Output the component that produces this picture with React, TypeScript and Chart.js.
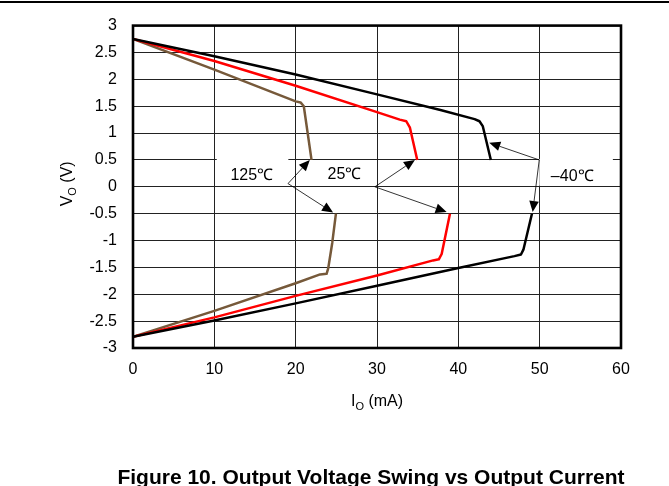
import React, { useEffect, useRef } from 'react';
import { Chart, registerables } from 'chart.js';

Chart.register(...registerables);

// ---- axis ticks ----
const xTickValues = [0, 10, 20, 30, 40, 50, 60];
const yTickValues = [-3, -2.5, -2, -1.5, -1, -0.5, 0, 0.5, 1, 1.5, 2, 2.5, 3];

// ---- series (I in mA, V in volts) ----
const i125Top = [0, 10, 20, 20.6, 21.0, 21.95];
const v125Top = [2.75, 2.18, 1.59, 1.57, 1.5, 0.5];
const i125Bot = [0, 10, 20, 23, 23.8, 24.0, 24.5, 24.95];
const v125Bot = [-2.79, -2.31, -1.795, -1.63, -1.62, -1.52, -1.04, -0.5];

const i25Top = [0, 10, 20, 30, 32.8, 33.6, 34.05, 34.95];
const v25Top = [2.75, 2.34, 1.88, 1.39, 1.25, 1.22, 1.1, 0.5];
const i25Bot = [0, 10, 20, 30, 36.9, 37.6, 37.95, 38.97];
const v25Bot = [-2.79, -2.43, -2.03, -1.65, -1.37, -1.35, -1.25, -0.5];

const iM40Top = [0, 10, 20, 30, 37.8, 42.0, 42.6, 43.0, 44.0];
const vM40Top = [2.75, 2.43, 2.09, 1.72, 1.43, 1.26, 1.22, 1.13, 0.5];
const iM40Bot = [0, 10, 20, 30, 40, 46.9, 47.7, 48.0, 49.05];
const vM40Bot = [-2.79, -2.49, -2.17, -1.84, -1.51, -1.29, -1.26, -1.17, -0.5];

// ---- annotations (data coordinates) ----
const labelText = ['125℃', '25℃', '–40℃'];
const labelX = [14.6, 26.0, 54.0];
const labelY = [0.2, 0.22, 0.19];
const arrowFromX = [19.06, 29.74, 49.95];
const arrowFromY = [0.06, 0.0, 0.5];
const arrowUpX = [21.74, 34.66, 43.8];
const arrowUpY = [0.5, 0.5, 0.82];
const arrowDownX = [24.6, 38.56, 49.14];
const arrowDownY = [-0.48, -0.47, -0.47];
const boxX0 = [10.3, null, 49.95];
const boxX1 = [19.1, null, 59.0];
const boxY0 = [0.03, null, 0.02];
const boxY1 = [0.5, null, 0.5];

const xTitleMain = 'I';
const xTitleSub = 'O';
const xTitleRest = ' (mA)';
const yTitleMain = 'V';
const yTitleSub = 'O';
const yTitleRest = ' (V)';
const caption = 'Figure 10. Output Voltage Swing vs Output Current';

const BLACK = '#000000';
const RED = '#ff0000';
const BROWN = '#76593a';
const FONT = '"Liberation Sans", Arial, sans-serif';

const pts = (xs: number[], ys: number[]) => xs.map((x, i) => ({ x, y: ys[i] }));

function drawArrow(ctx: CanvasRenderingContext2D, x0: number, y0: number, x1: number, y1: number) {
  const ang = Math.atan2(y1 - y0, x1 - x0);
  const len = 11;
  const half = 4.8;
  const bx = x1 - len * Math.cos(ang);
  const by = y1 - len * Math.sin(ang);
  ctx.beginPath();
  ctx.moveTo(x0, y0);
  ctx.lineTo(bx, by);
  ctx.lineWidth = 0.8;
  ctx.strokeStyle = '#000';
  ctx.stroke();
  ctx.beginPath();
  ctx.moveTo(x1, y1);
  ctx.lineTo(bx + half * Math.sin(ang), by - half * Math.cos(ang));
  ctx.lineTo(bx - half * Math.sin(ang), by + half * Math.cos(ang));
  ctx.closePath();
  ctx.fillStyle = '#000';
  ctx.fill();
}

const decor = {
  id: 'decor',
  beforeDatasetsDraw(chart: any) {
    const { ctx, scales } = chart;
    const xs = scales.x;
    const ys = scales.y;
    ctx.save();
    ctx.fillStyle = '#ffffff';
    for (let i = 0; i < boxX0.length; i++) {
      if (boxX0[i] === null) continue;
      const px0 = xs.getPixelForValue(boxX0[i] as number);
      const px1 = xs.getPixelForValue(boxX1[i] as number);
      const py0 = ys.getPixelForValue(boxY1[i] as number);
      const py1 = ys.getPixelForValue(boxY0[i] as number);
      ctx.fillRect(px0, py0 - 1, px1 - px0, py1 - py0 + 1);
    }
    ctx.restore();
  },
  afterDatasetsDraw(chart: any) {
    const { ctx, scales } = chart;
    const xs = scales.x;
    const ys = scales.y;
    ctx.save();
    for (let i = 0; i < labelText.length; i++) {
      const fx = xs.getPixelForValue(arrowFromX[i]);
      const fy = ys.getPixelForValue(arrowFromY[i]);
      drawArrow(ctx, fx, fy, xs.getPixelForValue(arrowUpX[i]), ys.getPixelForValue(arrowUpY[i]));
      drawArrow(ctx, fx, fy, xs.getPixelForValue(arrowDownX[i]), ys.getPixelForValue(arrowDownY[i]));
      ctx.font = `16px ${FONT}`;
      ctx.fillStyle = '#000';
      ctx.textAlign = 'center';
      ctx.textBaseline = 'middle';
      ctx.fillText(labelText[i], xs.getPixelForValue(labelX[i]), ys.getPixelForValue(labelY[i]));
    }
    ctx.restore();
  },
  afterDraw(chart: any) {
    const { ctx, chartArea, width } = chart;
    ctx.save();
    // plot frame
    ctx.strokeStyle = '#000';
    ctx.lineWidth = 2.6;
    ctx.strokeRect(chartArea.left, chartArea.top, chartArea.right - chartArea.left, chartArea.bottom - chartArea.top);
    // page rule at top
    ctx.fillStyle = '#000';
    ctx.fillRect(0, 1, width, 2);
    // x title
    const cx = (chartArea.left + chartArea.right) / 2;
    ctx.textBaseline = 'alphabetic';
    ctx.textAlign = 'left';
    const big = `16px ${FONT}`;
    const small = `11px ${FONT}`;
    ctx.font = big;
    const w1 = ctx.measureText(xTitleMain).width;
    const w3 = ctx.measureText(xTitleRest).width;
    ctx.font = small;
    const w2 = ctx.measureText(xTitleSub).width;
    let x = cx - (w1 + w2 + w3) / 2;
    const by = 405.5;
    ctx.font = big;
    ctx.fillText(xTitleMain, x, by);
    x += w1;
    ctx.font = small;
    ctx.fillText(xTitleSub, x, by + 4);
    x += w2;
    ctx.font = big;
    ctx.fillText(xTitleRest, x, by);
    // y title (rotated)
    const cy = (chartArea.top + chartArea.bottom) / 2 - 3;
    ctx.save();
    ctx.translate(71.5, cy);
    ctx.rotate(-Math.PI / 2);
    ctx.font = big;
    const v1 = ctx.measureText(yTitleMain).width;
    const v3 = ctx.measureText(yTitleRest).width;
    ctx.font = small;
    const v2 = ctx.measureText(yTitleSub).width;
    let t = -(v1 + v2 + v3) / 2;
    ctx.font = big;
    ctx.fillText(yTitleMain, t, 0);
    t += v1;
    ctx.font = small;
    ctx.fillText(yTitleSub, t, 4);
    t += v2;
    ctx.font = big;
    ctx.fillText(yTitleRest, t, 0);
    ctx.restore();
    // caption
    ctx.font = `bold 21px ${FONT}`;
    ctx.textAlign = 'center';
    ctx.fillText(caption, 371, 484);
    ctx.restore();
  },
};

export default function App() {
  const ref = useRef<HTMLCanvasElement>(null);
  useEffect(() => {
    document.body.style.margin = '0';
    const canvas = ref.current;
    if (!canvas) return;
    const line = (data: { x: number; y: number }[], color: string) => ({
      data,
      borderColor: color,
      backgroundColor: color,
      borderWidth: 2.5,
      pointRadius: 0,
      showLine: true,
      fill: false,
      tension: 0,
      borderJoinStyle: 'round' as const,
      borderCapStyle: 'butt' as const,
    });
    const chart = new Chart(canvas, {
      type: 'scatter',
      data: {
        datasets: [
          line(pts(iM40Top, vM40Top), BLACK),
          line(pts(iM40Bot, vM40Bot), BLACK),
          line(pts(i25Top, v25Top), RED),
          line(pts(i25Bot, v25Bot), RED),
          line(pts(i125Top, v125Top), BROWN),
          line(pts(i125Bot, v125Bot), BROWN),
        ],
      },
      options: {
        animation: false,
        responsive: false,
        maintainAspectRatio: false,
        layout: { padding: { left: 0, top: 17, right: 48, bottom: 0 } },
        plugins: { legend: { display: false }, tooltip: { enabled: false }, title: { display: false } },
        scales: {
          x: {
            type: 'linear',
            min: 0,
            max: 60,
            afterBuildTicks: (s: any) => { s.ticks = xTickValues.map((v) => ({ value: v })); },
            afterFit: (s: any) => { s.height = 138; },
            ticks: { color: '#000', font: { size: 16, family: FONT }, padding: 12, callback: (v: any) => String(v) },
            grid: { color: '#222', lineWidth: 1, drawTicks: false },
            border: { display: false },
          },
          y: {
            type: 'linear',
            min: -3,
            max: 3,
            afterBuildTicks: (s: any) => { s.ticks = yTickValues.map((v) => ({ value: v })); },
            afterFit: (s: any) => { s.width = 133; },
            ticks: { color: '#000', font: { size: 16, family: FONT }, padding: 16, callback: (v: any) => String(v) },
            grid: { color: '#222', lineWidth: 1, drawTicks: false },
            border: { display: false },
          },
        },
      },
      plugins: [decor],
    });
    return () => chart.destroy();
  }, []);
  return <canvas ref={ref} width={669} height={486} style={{ display: 'block' }} />;
}
